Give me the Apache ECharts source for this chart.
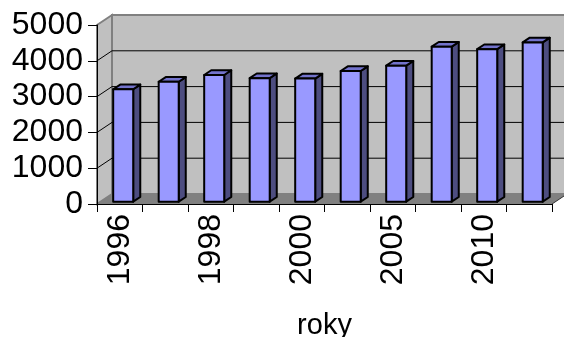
<!DOCTYPE html>
<html>
<head>
<meta charset="utf-8">
<script src="https://cdn.jsdelivr.net/npm/echarts@6/dist/echarts.min.js"></script>
<style>
  html, body { margin: 0; padding: 0; background: #fff; }
  #chart { width: 564px; height: 337px; }
</style>
</head>
<body>
<div id="chart"></div>
<script>
// Years on the category axis (every other one is labelled)
const years = ['1996', '1997', '1998', '1999', '2000', '2003', '2005', '2008', '2010', '2011'];
// Values per year
const values = [3140, 3350, 3540, 3450, 3440, 3650, 3800, 4330, 4260, 4450];
// Value-axis ticks
const yTicks = [0, 1000, 2000, 3000, 4000, 5000];

// Pseudo-3D depth of the plot box (pixels, back wall relative to front)
const DEPTH_X = 15, DEPTH_Y = -10;
// Bar occupies this slice of the depth (0 = front, 1 = back wall)
const BAR_FRONT = 0.23, BAR_BACK = 0.70;
const BAR_WIDTH = 0.44;

const FONT = '"Liberation Sans", Arial, sans-serif';

const chart = echarts.init(document.getElementById('chart'), null, { renderer: 'canvas' });

function wallItem(params, api) {
  const cs = params.coordSys;
  const left = cs.x, right = cs.x + cs.width;
  const top = api.coord([0, yTicks[yTicks.length - 1]])[1];
  const bottom = api.coord([0, 0])[1];
  const children = [];
  // back wall
  children.push({
    type: 'polygon',
    shape: { points: [[left + DEPTH_X, top + DEPTH_Y], [right + DEPTH_X, top + DEPTH_Y],
                      [right + DEPTH_X, bottom + DEPTH_Y], [left + DEPTH_X, bottom + DEPTH_Y]] },
    style: { fill: '#c0c0c0', stroke: '#808080', lineWidth: 2 }
  });
  // side wall
  children.push({
    type: 'polygon',
    shape: { points: [[left, top], [left + DEPTH_X, top + DEPTH_Y],
                      [left + DEPTH_X, bottom + DEPTH_Y], [left, bottom]] },
    style: { fill: '#c0c0c0', stroke: '#808080', lineWidth: 2 }
  });
  // floor
  children.push({
    type: 'polygon',
    shape: { points: [[left, bottom], [left + DEPTH_X, bottom + DEPTH_Y],
                      [right + DEPTH_X, bottom + DEPTH_Y], [right, bottom]] },
    style: { fill: '#808080', stroke: null }
  });
  children.push({
    type: 'line',
    shape: { x1: right, y1: bottom, x2: right + DEPTH_X, y2: bottom + DEPTH_Y },
    style: { stroke: '#333', lineWidth: 1 }
  });
  // gridlines on the back and side walls
  yTicks.slice(1, -1).forEach(function (v) {
    const y = api.coord([0, v])[1];
    children.push({
      type: 'polyline',
      shape: { points: [[left, y], [left + DEPTH_X, y + DEPTH_Y], [right + DEPTH_X, y + DEPTH_Y]] },
      style: { stroke: '#000', lineWidth: 1, fill: null }
    });
  });
  return { type: 'group', children: children };
}

function barItem(params, api) {
  const xi = api.value(0);
  const topPt = api.coord([xi, api.value(1)]);
  const basePt = api.coord([xi, 0]);
  const bw = api.size([1, 0])[0] * BAR_WIDTH;
  const x0 = topPt[0] - bw / 2, x1 = topPt[0] + bw / 2;
  const fx = DEPTH_X * BAR_FRONT, fy = DEPTH_Y * BAR_FRONT;
  const bx = DEPTH_X * BAR_BACK, by = DEPTH_Y * BAR_BACK;
  const yt = topPt[1], yb = basePt[1];
  const line = { stroke: '#000', lineWidth: 2, lineJoin: 'round' };
  return {
    type: 'group',
    children: [
      {
        type: 'polygon',
        shape: { points: [[x1 + fx, yt + fy], [x1 + bx, yt + by], [x1 + bx, yb + by], [x1 + fx, yb + fy]] },
        style: Object.assign({ fill: '#4d4d80' }, line)
      },
      {
        type: 'polygon',
        shape: { points: [[x0 + fx, yt + fy], [x0 + bx, yt + by], [x1 + bx, yt + by], [x1 + fx, yt + fy]] },
        style: Object.assign({ fill: '#7373cc' }, line)
      },
      {
        type: 'polygon',
        shape: { points: [[x0 + fx, yt + fy], [x1 + fx, yt + fy], [x1 + fx, yb + fy], [x0 + fx, yb + fy]] },
        style: Object.assign({ fill: '#9999ff' }, line)
      }
    ]
  };
}

chart.setOption({
  animation: false,
  backgroundColor: '#ffffff',
  grid: { left: 97, right: 12, top: 25, bottom: 133, containLabel: false, outerBoundsMode: 'none' },
  xAxis: {
    type: 'category',
    data: years,
    z: 5,
    axisLine: { lineStyle: { color: '#000', width: 1 } },
    axisTick: { show: true, interval: 0, length: 8, lineStyle: { color: '#000' } },
    axisLabel: {
      interval: 1, rotate: 90, margin: 10,
      fontFamily: FONT, fontSize: 32, color: '#000'
    },
    name: 'roky',
    nameLocation: 'middle',
    nameGap: 107,
    nameTextStyle: { fontFamily: FONT, fontSize: 29, color: '#000' }
  },
  yAxis: {
    type: 'value',
    min: 0, max: 5000, interval: 1000,
    z: 5,
    axisLine: { show: true, lineStyle: { color: '#000', width: 1 } },
    axisTick: { show: true, length: 9, lineStyle: { color: '#000' } },
    axisLabel: {
      margin: 14, fontFamily: FONT, fontSize: 32, color: '#000',
      formatter: function (v) { return String(v); }
    },
    splitLine: { show: false }
  },
  series: [
    {
      type: 'custom',
      z: 1,
      silent: true,
      data: [[0, 0]],
      renderItem: wallItem
    },
    {
      type: 'custom',
      z: 3,
      data: values.map(function (v, i) { return [i, v]; }),
      renderItem: barItem
    }
  ]
});
</script>
</body>
</html>
